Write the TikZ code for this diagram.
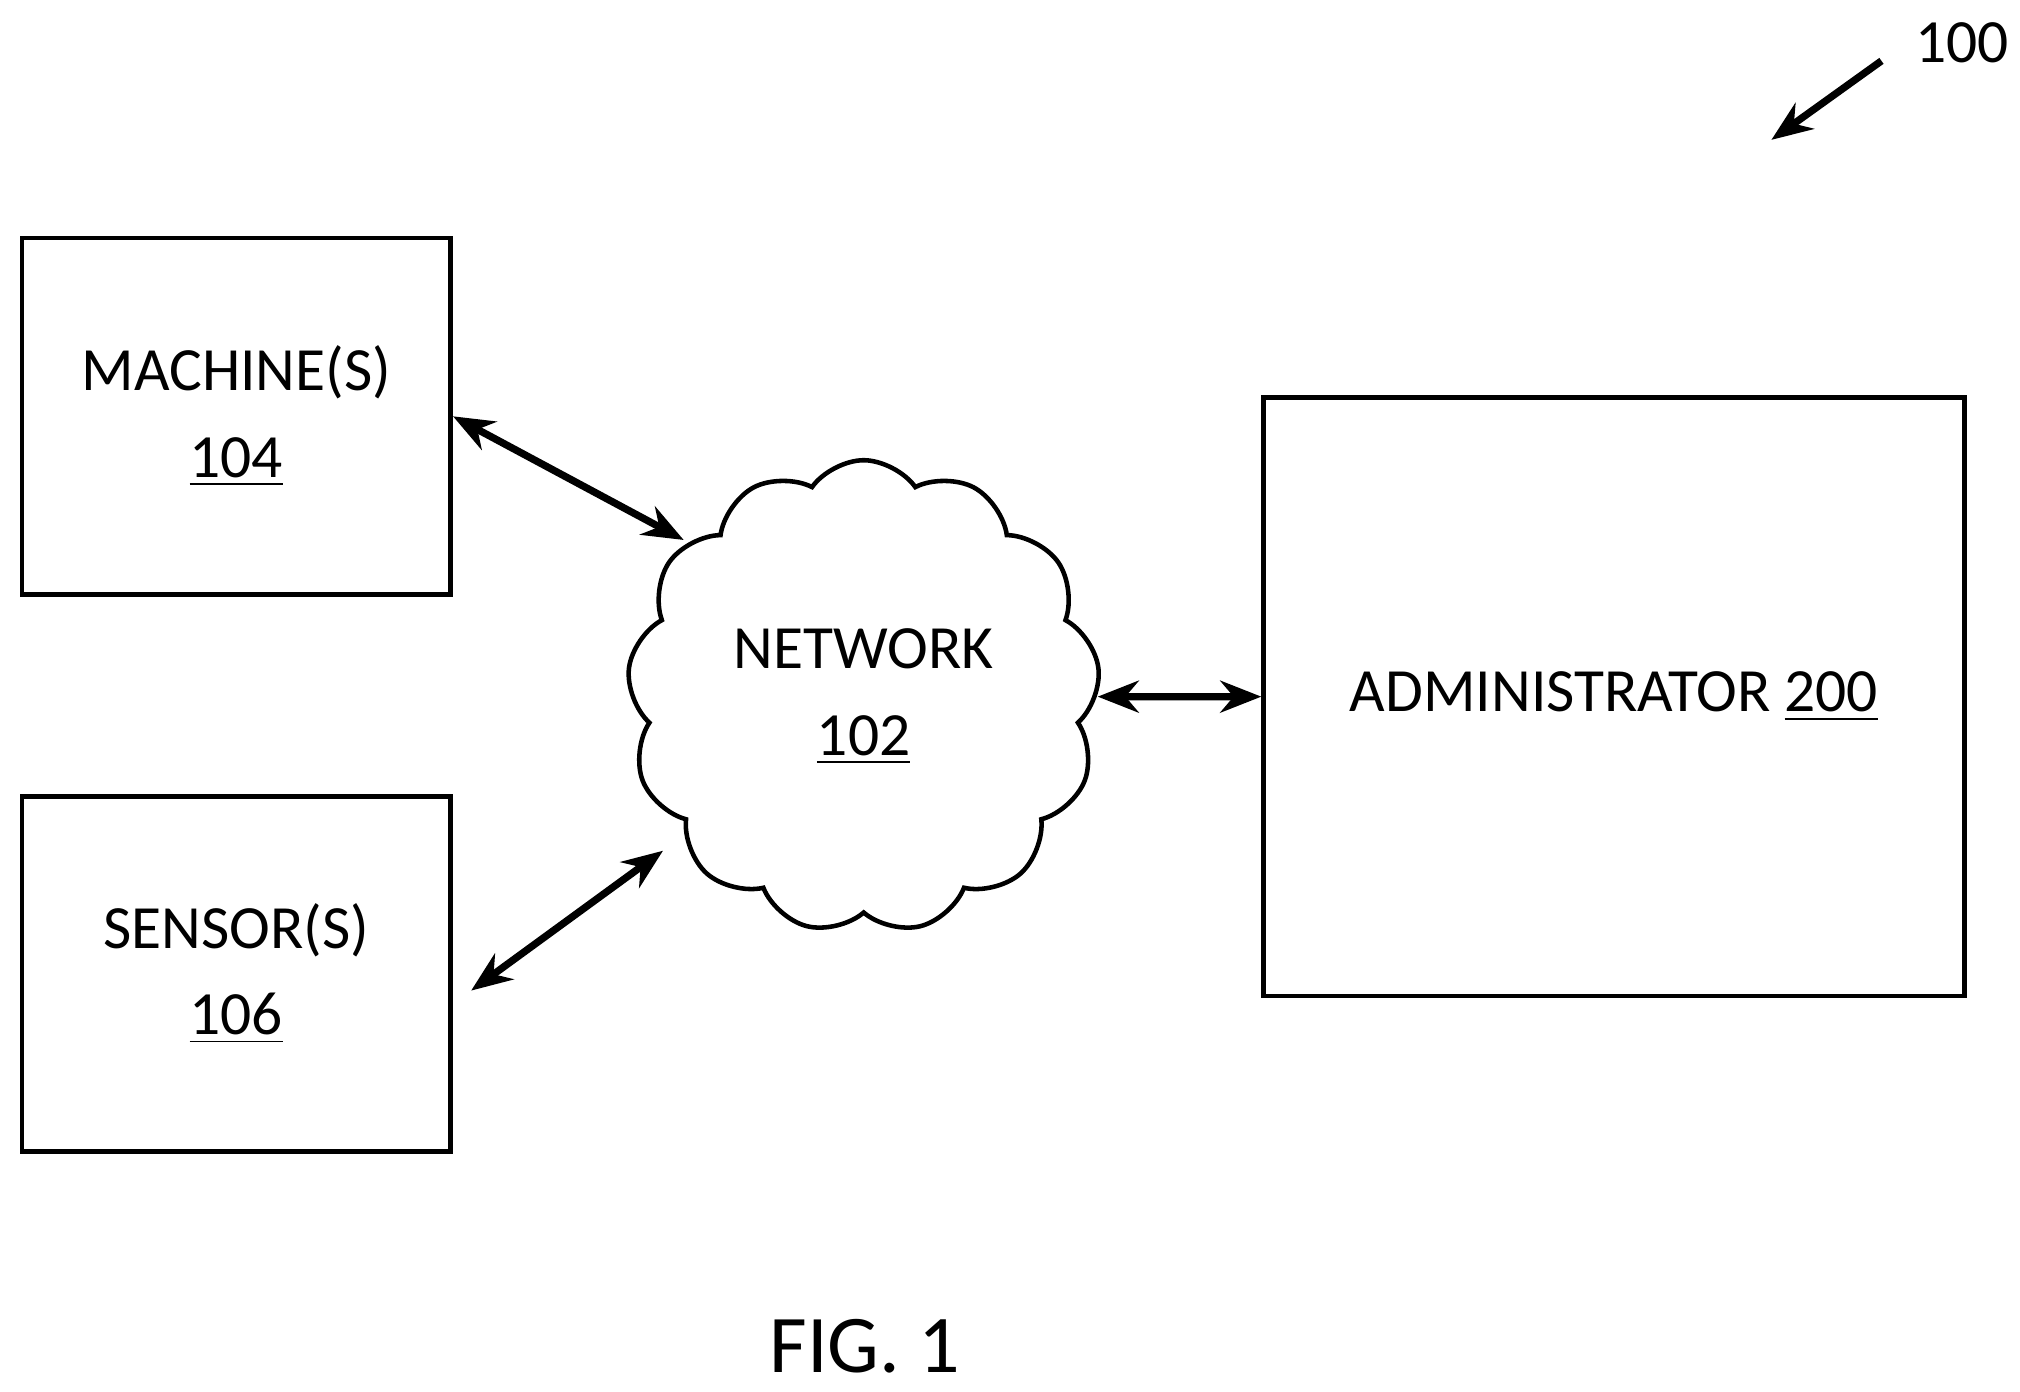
\documentclass[tikz,border=0pt]{standalone}
\usepackage{fontspec}
\setmainfont{Carlito}
\usetikzlibrary{shapes.symbols,arrows.meta}
\begin{document}
\begin{tikzpicture}[x=0.01cm,y=-0.01cm,
  box/.style={draw, line width=1pt, inner sep=0pt, align=center, font=\fontsize{13.5}{19}\selectfont},
  link/.style={{Stealth[length=9pt,width=7pt]}-{Stealth[length=9pt,width=7pt]}, line width=1.6pt}]
  \useasboundingbox (0,0) rectangle (1560,1075);

  \node[box, minimum width=3.31cm, minimum height=2.75cm] (mach) at (182.5,321.5) {MACHINE(S)\\\underline{104}};
  \node[box, minimum width=3.31cm, minimum height=2.74cm] (sens) at (182.5,752) {SENSOR(S)\\\underline{106}};
  \node[box, minimum width=5.41cm, minimum height=4.62cm] (admin) at (1246.5,538) {ADMINISTRATOR \underline{200}};
  \node[box, cloud, cloud puffs=13, cloud puff arc=110, aspect=0.9, minimum width=3.65cm, minimum height=3.65cm] (net) at (667,538) {NETWORK\\\underline{102}};

  \draw[link] (mach.east) -- (528,417);
  \draw[link] ([xshift=0.14cm,yshift=-0.13cm]sens.east) -- (512,657);
  \draw[link] (net.east) -- (admin.west);

  \node[font=\fontsize{13.5}{16}\selectfont] (num) at (1515,33) {100};
  \draw[-{Stealth[length=9pt,width=7pt]}, line width=1.6pt] (1453,47) -- (1368,108);

  \node[font=\fontsize{18}{21}\selectfont] (fig) at (668,1040) {FIG. 1};
\end{tikzpicture}
\end{document}
